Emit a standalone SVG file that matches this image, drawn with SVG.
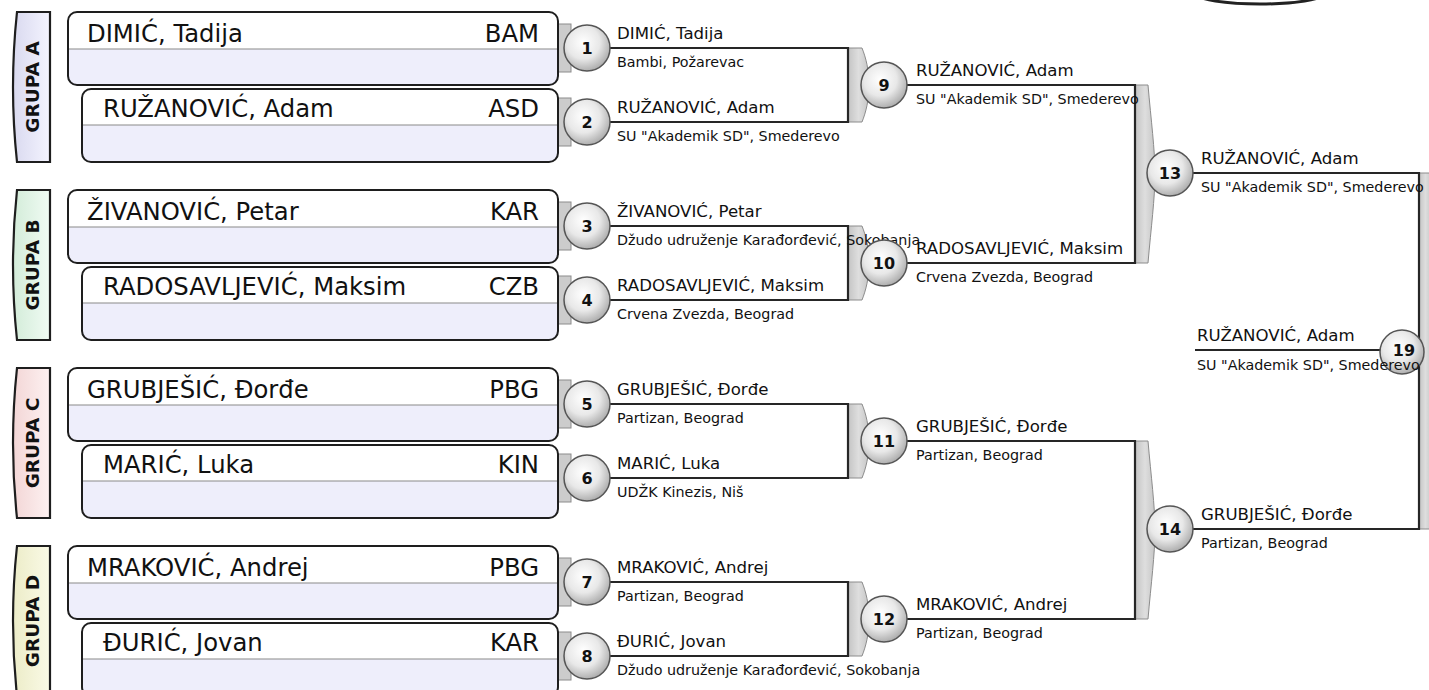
<svg xmlns="http://www.w3.org/2000/svg" width="1429" height="690" viewBox="0 0 1429 690">
<defs>
<radialGradient id="cg" cx="0.42" cy="0.38" r="0.65"><stop offset="0" stop-color="#ffffff"/><stop offset="0.55" stop-color="#e8e8e8"/><stop offset="1" stop-color="#a9a9a9"/></radialGradient>
<linearGradient id="bg" x1="0" y1="0" x2="1" y2="0"><stop offset="0" stop-color="#c4c4c4"/><stop offset="0.5" stop-color="#dedede"/><stop offset="1" stop-color="#c6c6c6"/></linearGradient>
<linearGradient id="ta" x1="0" y1="0" x2="1" y2="0"><stop offset="0" stop-color="#d9d9ef"/><stop offset="1" stop-color="#f4f4ff"/></linearGradient>
<linearGradient id="tb" x1="0" y1="0" x2="1" y2="0"><stop offset="0" stop-color="#d3ecd9"/><stop offset="1" stop-color="#f0fbf3"/></linearGradient>
<linearGradient id="tc" x1="0" y1="0" x2="1" y2="0"><stop offset="0" stop-color="#f3d6d6"/><stop offset="1" stop-color="#fdf1f1"/></linearGradient>
<linearGradient id="td" x1="0" y1="0" x2="1" y2="0"><stop offset="0" stop-color="#ececc8"/><stop offset="1" stop-color="#fafae6"/></linearGradient>
</defs>
<style>
.tab{stroke:#1e1e1e;stroke-width:2.2}
.tabt{font-family:"DejaVu Sans",sans-serif;font-weight:bold;font-size:18.5px;fill:#111}
.bx{fill:#eeeefb}
.bxt{fill:#ffffff}
.bxo{fill:none;stroke:#1e1e1e;stroke-width:2}
.div{stroke:#8a8a8a;stroke-width:1.2}
.nm{font-family:"DejaVu Sans",sans-serif;font-size:24.3px;fill:#111}
.stub{fill:#cccccc;stroke:#8c8c8c;stroke-width:1}
.ln{fill:none;stroke:#262626;stroke-width:2.2}
.br{fill:url(#bg);stroke:#8c8c8c;stroke-width:1}
.c{fill:url(#cg);stroke:#555;stroke-width:1.5}
.cn{font-family:"DejaVu Sans",sans-serif;font-weight:bold;font-size:16px;fill:#111;text-anchor:middle}
.pn{font-family:"DejaVu Sans",sans-serif;font-size:16.6px;fill:#111}
.pc{font-family:"DejaVu Sans",sans-serif;font-size:14.3px;fill:#111}
</style>
<rect width="1429" height="690" fill="#ffffff"/>
<ellipse cx="1260" cy="-6" rx="63" ry="10" fill="#ffffff" stroke="#222" stroke-width="3"/>

<!-- group tabs -->
<g id="grupa-a"><path class="tab" fill="url(#ta)" d="M50,12 H17 Q9,87 17,162 H50 Z"/><text class="tabt" transform="translate(38.5,87) rotate(-90)" text-anchor="middle">GRUPA A</text></g>
<g id="grupa-b"><path class="tab" fill="url(#tb)" d="M50,190 H17 Q9,265 17,340 H50 Z"/><text class="tabt" transform="translate(38.5,265) rotate(-90)" text-anchor="middle">GRUPA B</text></g>
<g id="grupa-c"><path class="tab" fill="url(#tc)" d="M50,368 H17 Q9,443 17,518 H50 Z"/><text class="tabt" transform="translate(38.5,443) rotate(-90)" text-anchor="middle">GRUPA C</text></g>
<g id="grupa-d"><path class="tab" fill="url(#td)" d="M50,546 H17 Q9,621 17,696 H50 Z"/><text class="tabt" transform="translate(38.5,621) rotate(-90)" text-anchor="middle">GRUPA D</text></g>

<!-- connectors -->
<g id="connectors">
<rect class="stub" x="557" y="24" width="14" height="48"/>
<rect class="stub" x="557" y="98" width="14" height="48"/>
<rect class="stub" x="557" y="202" width="14" height="48"/>
<rect class="stub" x="557" y="276" width="14" height="48"/>
<rect class="stub" x="557" y="380" width="14" height="48"/>
<rect class="stub" x="557" y="454" width="14" height="48"/>
<rect class="stub" x="557" y="558" width="14" height="48"/>
<rect class="stub" x="557" y="632" width="14" height="48"/>
<path class="br" d="M848,48 H862 C866,58 869,70 869,85 C869,100 866,112 862,122 H848 Z"/>
<path class="br" d="M848,226 H862 C866,236 869,248 869,263 C869,278 866,290 862,300 H848 Z"/>
<path class="br" d="M848,404 H862 C866,414 869,426 869,441 C869,456 866,468 862,478 H848 Z"/>
<path class="br" d="M848,582 H862 C866,592 869,604 869,619 C869,634 866,646 862,656 H848 Z"/>
<path class="br" d="M1135,85 H1148 C1151,120 1155,150 1155,174 C1155,198 1151,228 1148,263 H1135 Z"/>
<path class="br" d="M1135,441 H1148 C1151,476 1155,506 1155,530 C1155,554 1151,584 1148,619 H1135 Z"/>
<path class="br" d="M1419,173 H1432 V529 H1419 Z"/>
<path class="ln" d="M587,48 H848 V122 H587"/>
<path class="ln" d="M587,226 H848 V300 H587"/>
<path class="ln" d="M587,404 H848 V478 H587"/>
<path class="ln" d="M587,582 H848 V656 H587"/>
<path class="ln" d="M884,85 H1135 V263 H884"/>
<path class="ln" d="M884,441 H1135 V619 H884"/>
<path class="ln" d="M1170,173 H1419 V529 H1170"/>
<path class="ln" d="M1195,350 H1402"/>
</g>

<!-- player boxes -->
<g id="box-1"><rect class="bx" x="68" y="12" width="490" height="73" rx="9"/><path class="bxt" d="M77,12 H549 Q558,12 558,21 V49 H68 V21 Q68,12 77,12 Z"/><line class="div" x1="68" y1="49" x2="558" y2="49"/><rect class="bxo" x="68" y="12" width="490" height="73" rx="9"/><text class="nm" x="87" y="42">DIMIĆ, Tadija</text><text class="nm" x="539" y="42" text-anchor="end">BAM</text></g>
<g id="box-2"><rect class="bx" x="82" y="89" width="476" height="73" rx="9"/><path class="bxt" d="M91,89 H549 Q558,89 558,98 V125 H82 V98 Q82,89 91,89 Z"/><line class="div" x1="82" y1="125" x2="558" y2="125"/><rect class="bxo" x="82" y="89" width="476" height="73" rx="9"/><text class="nm" x="103" y="117">RUŽANOVIĆ, Adam</text><text class="nm" x="539" y="117" text-anchor="end">ASD</text></g>
<g id="box-3"><rect class="bx" x="68" y="190" width="490" height="73" rx="9"/><path class="bxt" d="M77,190 H549 Q558,190 558,199 V227 H68 V199 Q68,190 77,190 Z"/><line class="div" x1="68" y1="227" x2="558" y2="227"/><rect class="bxo" x="68" y="190" width="490" height="73" rx="9"/><text class="nm" x="87" y="220">ŽIVANOVIĆ, Petar</text><text class="nm" x="539" y="220" text-anchor="end">KAR</text></g>
<g id="box-4"><rect class="bx" x="82" y="267" width="476" height="73" rx="9"/><path class="bxt" d="M91,267 H549 Q558,267 558,276 V303 H82 V276 Q82,267 91,267 Z"/><line class="div" x1="82" y1="303" x2="558" y2="303"/><rect class="bxo" x="82" y="267" width="476" height="73" rx="9"/><text class="nm" x="103" y="295">RADOSAVLJEVIĆ, Maksim</text><text class="nm" x="539" y="295" text-anchor="end">CZB</text></g>
<g id="box-5"><rect class="bx" x="68" y="368" width="490" height="73" rx="9"/><path class="bxt" d="M77,368 H549 Q558,368 558,377 V405 H68 V377 Q68,368 77,368 Z"/><line class="div" x1="68" y1="405" x2="558" y2="405"/><rect class="bxo" x="68" y="368" width="490" height="73" rx="9"/><text class="nm" x="87" y="398">GRUBJEŠIĆ, Đorđe</text><text class="nm" x="539" y="398" text-anchor="end">PBG</text></g>
<g id="box-6"><rect class="bx" x="82" y="445" width="476" height="73" rx="9"/><path class="bxt" d="M91,445 H549 Q558,445 558,454 V481 H82 V454 Q82,445 91,445 Z"/><line class="div" x1="82" y1="481" x2="558" y2="481"/><rect class="bxo" x="82" y="445" width="476" height="73" rx="9"/><text class="nm" x="103" y="473">MARIĆ, Luka</text><text class="nm" x="539" y="473" text-anchor="end">KIN</text></g>
<g id="box-7"><rect class="bx" x="68" y="546" width="490" height="73" rx="9"/><path class="bxt" d="M77,546 H549 Q558,546 558,555 V583 H68 V555 Q68,546 77,546 Z"/><line class="div" x1="68" y1="583" x2="558" y2="583"/><rect class="bxo" x="68" y="546" width="490" height="73" rx="9"/><text class="nm" x="87" y="576">MRAKOVIĆ, Andrej</text><text class="nm" x="539" y="576" text-anchor="end">PBG</text></g>
<g id="box-8"><rect class="bx" x="82" y="623" width="476" height="73" rx="9"/><path class="bxt" d="M91,623 H549 Q558,623 558,632 V659 H82 V632 Q82,623 91,623 Z"/><line class="div" x1="82" y1="659" x2="558" y2="659"/><rect class="bxo" x="82" y="623" width="476" height="73" rx="9"/><text class="nm" x="103" y="651">ĐURIĆ, Jovan</text><text class="nm" x="539" y="651" text-anchor="end">KAR</text></g>

<!-- matches -->
<g id="m1"><circle class="c" cx="587" cy="48" r="23"/><text class="cn" x="587" y="54">1</text><text class="pn" x="617" y="39">DIMIĆ, Tadija</text><text class="pc" x="617" y="67">Bambi, Požarevac</text></g>
<g id="m2"><circle class="c" cx="587" cy="122" r="23"/><text class="cn" x="587" y="128">2</text><text class="pn" x="617" y="113">RUŽANOVIĆ, Adam</text><text class="pc" x="617" y="141">SU "Akademik SD", Smederevo</text></g>
<g id="m3"><circle class="c" cx="587" cy="226" r="23"/><text class="cn" x="587" y="232">3</text><text class="pn" x="617" y="217">ŽIVANOVIĆ, Petar</text><text class="pc" x="617" y="245">Džudo udruženje Karađorđević, Sokobanja</text></g>
<g id="m4"><circle class="c" cx="587" cy="300" r="23"/><text class="cn" x="587" y="306">4</text><text class="pn" x="617" y="291">RADOSAVLJEVIĆ, Maksim</text><text class="pc" x="617" y="319">Crvena Zvezda, Beograd</text></g>
<g id="m5"><circle class="c" cx="587" cy="404" r="23"/><text class="cn" x="587" y="410">5</text><text class="pn" x="617" y="395">GRUBJEŠIĆ, Đorđe</text><text class="pc" x="617" y="423">Partizan, Beograd</text></g>
<g id="m6"><circle class="c" cx="587" cy="478" r="23"/><text class="cn" x="587" y="484">6</text><text class="pn" x="617" y="469">MARIĆ, Luka</text><text class="pc" x="617" y="497">UDŽK Kinezis, Niš</text></g>
<g id="m7"><circle class="c" cx="587" cy="582" r="23"/><text class="cn" x="587" y="588">7</text><text class="pn" x="617" y="573">MRAKOVIĆ, Andrej</text><text class="pc" x="617" y="601">Partizan, Beograd</text></g>
<g id="m8"><circle class="c" cx="587" cy="656" r="23"/><text class="cn" x="587" y="662">8</text><text class="pn" x="617" y="647">ĐURIĆ, Jovan</text><text class="pc" x="617" y="675">Džudo udruženje Karađorđević, Sokobanja</text></g>
<g id="m9"><circle class="c" cx="884" cy="85" r="23"/><text class="cn" x="884" y="91">9</text><text class="pn" x="916" y="76">RUŽANOVIĆ, Adam</text><text class="pc" x="916" y="104">SU "Akademik SD", Smederevo</text></g>
<g id="m10"><circle class="c" cx="884" cy="263" r="23"/><text class="cn" x="884" y="269">10</text><text class="pn" x="916" y="254">RADOSAVLJEVIĆ, Maksim</text><text class="pc" x="916" y="282">Crvena Zvezda, Beograd</text></g>
<g id="m11"><circle class="c" cx="884" cy="441" r="23"/><text class="cn" x="884" y="447">11</text><text class="pn" x="916" y="432">GRUBJEŠIĆ, Đorđe</text><text class="pc" x="916" y="460">Partizan, Beograd</text></g>
<g id="m12"><circle class="c" cx="884" cy="619" r="23"/><text class="cn" x="884" y="625">12</text><text class="pn" x="916" y="610">MRAKOVIĆ, Andrej</text><text class="pc" x="916" y="638">Partizan, Beograd</text></g>
<g id="m13"><circle class="c" cx="1170" cy="173" r="23"/><text class="cn" x="1170" y="179">13</text><text class="pn" x="1201" y="164">RUŽANOVIĆ, Adam</text><text class="pc" x="1201" y="192">SU "Akademik SD", Smederevo</text></g>
<g id="m14"><circle class="c" cx="1170" cy="529" r="23"/><text class="cn" x="1170" y="535">14</text><text class="pn" x="1201" y="520">GRUBJEŠIĆ, Đorđe</text><text class="pc" x="1201" y="548">Partizan, Beograd</text></g>
<g id="m19"><circle class="c" cx="1402" cy="352" r="22"/><text class="cn" x="1404" y="356">19</text><text class="pn" x="1197" y="341">RUŽANOVIĆ, Adam</text><text class="pc" x="1197" y="370">SU "Akademik SD", Smederevo</text></g>
</svg>
